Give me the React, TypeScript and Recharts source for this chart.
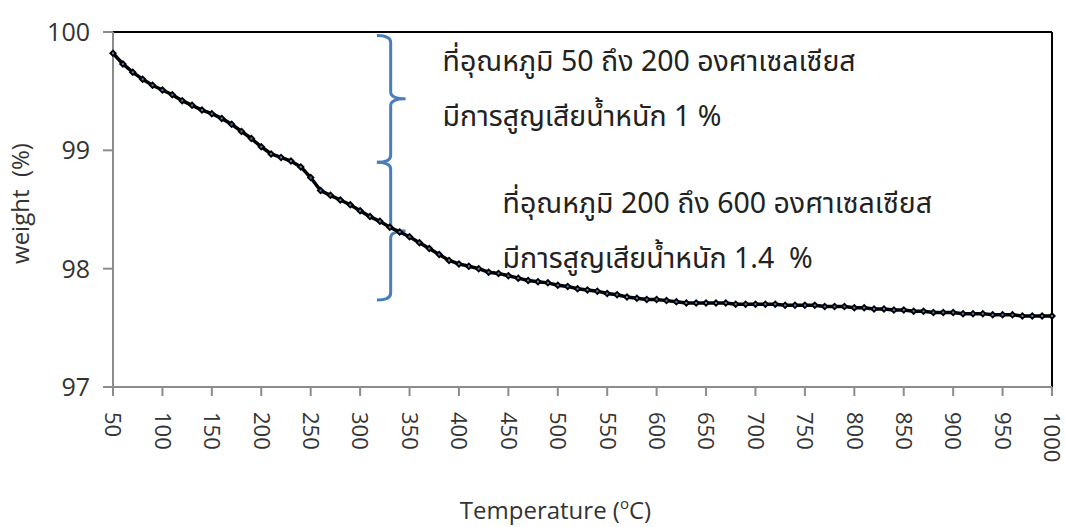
import React from "react";
import {
  LineChart,
  Line,
  XAxis,
  YAxis,
  ReferenceLine,
  ReferenceArea,
  Label,
} from "recharts";

// TGA run: temperature (°C) vs remaining weight (%)
const temperature = [
  50, 60, 70, 80, 90, 100, 110, 120, 130, 140, 150, 160, 170, 180, 190, 200,
  210, 220, 230, 240, 250, 260, 270, 280, 290, 300, 310, 320, 330, 340, 350,
  360, 370, 380, 390, 400, 410, 420, 430, 440, 450, 460, 470, 480, 490, 500,
  510, 520, 530, 540, 550, 560, 570, 580, 590, 600, 610, 620, 630, 640, 650,
  660, 670, 680, 690, 700, 710, 720, 730, 740, 750, 760, 770, 780, 790, 800,
  810, 820, 830, 840, 850, 860, 870, 880, 890, 900, 910, 920, 930, 940, 950,
  960, 970, 980, 990, 1000,
];

const weight = [
  99.82, 99.73, 99.66, 99.6, 99.55, 99.51, 99.47, 99.42, 99.38, 99.34, 99.31,
  99.27, 99.22, 99.16, 99.1, 99.03, 98.97, 98.94, 98.91, 98.86, 98.77, 98.66,
  98.62, 98.58, 98.54, 98.49, 98.44, 98.4, 98.35, 98.31, 98.27, 98.22, 98.17,
  98.12, 98.07, 98.04, 98.02, 98.0, 97.97, 97.96, 97.94, 97.92, 97.9, 97.89,
  97.88, 97.86, 97.85, 97.83, 97.82, 97.81, 97.79, 97.78, 97.76, 97.75, 97.74,
  97.74, 97.73, 97.72, 97.71, 97.71, 97.71, 97.71, 97.71, 97.7, 97.7, 97.7,
  97.7, 97.7, 97.69, 97.69, 97.69, 97.69, 97.68, 97.68, 97.68, 97.67, 97.67,
  97.66, 97.66, 97.65, 97.65, 97.64, 97.64, 97.63, 97.63, 97.63, 97.62, 97.62,
  97.62, 97.61, 97.61, 97.61, 97.6, 97.6, 97.6, 97.6,
];

const xTicks = [
  50, 100, 150, 200, 250, 300, 350, 400, 450, 500, 550, 600, 650, 700, 750,
  800, 850, 900, 950, 1000,
];
const yTicks = [97, 98, 99, 100];

// brace extents in data units (temperature, weight)
const braceTemps = [317, 346];
const braceWeights = [
  [99.97, 98.9],
  [98.9, 97.735],
];

const noteLines = [
  ["ที่อุณหภูมิ 50 ถึง 200 องศาเซลเซียส", "มีการสูญเสียน้ำหนัก 1 %"],
  ["ที่อุณหภูมิ 200 ถึง 600 องศาเซลเซียส", "มีการสูญเสียน้ำหนัก 1.4  %"],
];

const FONT = "'Open Sans', 'Noto Sans', sans-serif";
const THAI_FONT = "'Noto Sans Thai', 'Leelawadee UI', Tahoma, 'DejaVu Sans', sans-serif";
const AXIS_GREY = "#8c8c8c";
const BRACE_BLUE = "#4a7ebb";

// text offset from the brace tip, per note
const NOTE_OFFSET = [
  { dx: 37, dy: 35 },
  { dx: 97, dy: 51 },
];
const LINE_GAP = 55;

const data = temperature.map((t, i) => ({ t, w: weight[i] }));

const Marker = (props: any) => {
  const { cx, cy, index } = props;
  if (cx == null || cy == null) return <g key={index} />;
  return (
    <g key={`m-${index}`}>
      <polygon
        points={`${cx},${cy - 4} ${cx + 4},${cy} ${cx},${cy + 4} ${cx - 4},${cy}`}
        fill="#000"
      />
      <rect x={cx - 1} y={cy - 1} width={2} height={2} fill="#4f81bd" />
    </g>
  );
};

const XTick = (props: any) => {
  const { x, y, payload } = props;
  return (
    <text
      transform={`translate(${x},${y}) rotate(90)`}
      textAnchor="start"
      dy="0.35em"
      fontSize={22}
      fontFamily={FONT}
      fill="#333"
    >
      {payload.value}
    </text>
  );
};

const makeBrace = (lines: string[], offset: { dx: number; dy: number }) =>
  (props: any) => {
    const { x, y, width, height } = props;
    const vx = x + width * 0.48;
    const mid = y + height / 2;
    const r = 7;
    const d =
      `M${x},${y} Q${vx},${y} ${vx},${y + r} L${vx},${mid - r} ` +
      `Q${vx},${mid} ${x + width},${mid} Q${vx},${mid} ${vx},${mid + r} ` +
      `L${vx},${y + height - r} Q${vx},${y + height} ${x},${y + height}`;
    return (
      <g>
        <path d={d} fill="none" stroke={BRACE_BLUE} strokeWidth={3} />
        {lines.map((line, i) => (
          <text
            key={i}
            x={x + width + offset.dx}
            y={y + offset.dy + i * LINE_GAP}
            fontSize={28.5}
            fontFamily={THAI_FONT}
            fill="#222"
            style={{ whiteSpace: "pre" }}
          >
            {line}
          </text>
        ))}
      </g>
    );
  };

const XTitle = (props: any) => {
  const vb = props.viewBox || {};
  const cx = vb.x + vb.width / 2 - 27;
  return (
    <text
      x={cx}
      y={vb.y + vb.height - 8}
      textAnchor="middle"
      fontSize={24}
      fontFamily={FONT}
      fill="#333"
    >
      Temperature (
      <tspan fontSize={15} dy={-10}>
        o
      </tspan>
      <tspan dy={10}>C)</tspan>
    </text>
  );
};

export default function App() {
  return (
    <div
      style={{
        position: "absolute",
        left: 0,
        top: 0,
        width: 1065,
        height: 527,
        background: "#fff",
      }}
    >
      <LineChart
        width={1065}
        height={527}
        data={data}
        margin={{ top: 32, right: 13, bottom: 0, left: 0 }}
      >
        <XAxis
          dataKey="t"
          type="number"
          domain={[50, 1000]}
          ticks={xTicks}
          interval={0}
          height={140}
          tickSize={9}
          tickMargin={16}
          axisLine={{ stroke: AXIS_GREY, strokeWidth: 2 }}
          tickLine={{ stroke: AXIS_GREY, strokeWidth: 2 }}
          tick={<XTick />}
        >
          <Label content={<XTitle />} />
        </XAxis>
        <YAxis
          type="number"
          domain={[97, 100]}
          ticks={yTicks}
          width={113}
          tickSize={10}
          tickMargin={13}
          axisLine={{ stroke: AXIS_GREY, strokeWidth: 2 }}
          tickLine={{ stroke: AXIS_GREY, strokeWidth: 2 }}
          tick={{ fontSize: 25, fontFamily: FONT, fill: "#333" }}
        >
          <Label
            value={"weight\u00a0\u00a0(%)"}
            angle={-90}
            position="center"
            dx={-36}
            dy={-6}
            style={{ fontSize: 24, fontFamily: FONT, fill: "#333" }}
          />
        </YAxis>
        <ReferenceLine y={100} stroke="#000" strokeWidth={2} />
        <ReferenceLine x={1000} stroke="#000" strokeWidth={2} />
        {braceWeights.map(([top, bottom], i) => (
          <ReferenceArea
            key={i}
            x1={braceTemps[0]}
            x2={braceTemps[1]}
            y1={bottom}
            y2={top}
            shape={makeBrace(noteLines[i], NOTE_OFFSET[i])}
          />
        ))}
        <Line
          type="linear"
          dataKey="w"
          stroke="#000"
          strokeWidth={3.5}
          dot={Marker}
          isAnimationActive={false}
        />
      </LineChart>
    </div>
  );
}
